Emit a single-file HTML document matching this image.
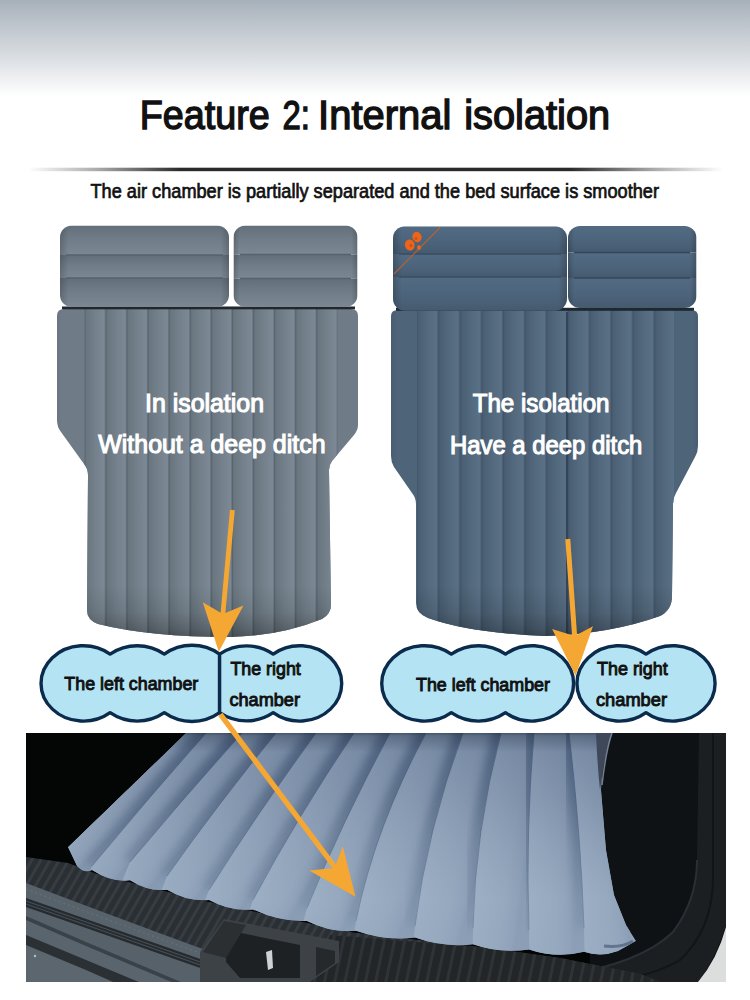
<!DOCTYPE html>
<html><head><meta charset="utf-8">
<style>
html,body{margin:0;padding:0;width:750px;height:1000px;overflow:hidden;background:#fff}
svg{display:block}
text{font-family:"Liberation Sans",sans-serif}
</style></head>
<body>
<svg width="750" height="1000" viewBox="0 0 750 1000">
<defs>
  <linearGradient id="bg" x1="0" y1="0" x2="0" y2="1">
    <stop offset="0" stop-color="#a7b1bb"/>
    <stop offset="0.5" stop-color="#d2d7dc"/>
    <stop offset="1" stop-color="#ffffff"/>
  </linearGradient>
  <linearGradient id="rule" x1="28" y1="0" x2="723" y2="0" gradientUnits="userSpaceOnUse">
    <stop offset="0" stop-color="#2a2a2a" stop-opacity="0"/>
    <stop offset="0.1" stop-color="#2a2a2a" stop-opacity="0.4"/>
    <stop offset="0.22" stop-color="#2a2a2a" stop-opacity="1"/>
    <stop offset="0.78" stop-color="#2a2a2a" stop-opacity="1"/>
    <stop offset="0.9" stop-color="#2a2a2a" stop-opacity="0.4"/>
    <stop offset="1" stop-color="#2a2a2a" stop-opacity="0"/>
  </linearGradient>
  <!-- left mattress tube stripes -->
  <linearGradient id="tubeL" x1="84.8" y1="0" x2="105.88" y2="0" gradientUnits="userSpaceOnUse" spreadMethod="repeat">
    <stop offset="0" stop-color="#58646e"/>
    <stop offset="0.07" stop-color="#69767f"/>
    <stop offset="0.5" stop-color="#74818c"/>
    <stop offset="0.92" stop-color="#7c8994"/>
    <stop offset="1" stop-color="#5a6670"/>
  </linearGradient>
  <linearGradient id="tubeR" x1="417" y1="0" x2="438.6" y2="0" gradientUnits="userSpaceOnUse" spreadMethod="repeat">
    <stop offset="0" stop-color="#41556a"/>
    <stop offset="0.08" stop-color="#4a5f73"/>
    <stop offset="0.5" stop-color="#53697d"/>
    <stop offset="0.9" stop-color="#5a7086"/>
    <stop offset="1" stop-color="#44586c"/>
  </linearGradient>
  <linearGradient id="pilL" x1="0" y1="0" x2="0" y2="1">
    <stop offset="0" stop-color="#5f6d78"/>
    <stop offset="1" stop-color="#7a8894"/>
  </linearGradient>
  <linearGradient id="pilR" x1="0" y1="0" x2="0" y2="1">
    <stop offset="0" stop-color="#48607a"/>
    <stop offset="1" stop-color="#587088"/>
  </linearGradient>
  <clipPath id="bodyLclip"><path d="M57,316 Q57,309 64,309 L351,309 Q358,309 358,316 L358,425 Q358,430 354,435 L332,461 Q329,465 329,470 L331,605 Q331,614 322,619 Q280,636 230,637 Q150,637 98,624 Q87,620 87,610 L88,475 Q88,469 84,464 L61,432 Q57,427 57,420 Z"/></clipPath>
  <clipPath id="bodyRclip"><path d="M391,316 Q391,310 398,310 L691,310 Q698,310 698,316 L698,446 Q698,452 695,457 L676,493 Q673,498 673,504 L672,596 Q672,610 660,616 Q610,634 545,636 Q470,633 428,618 Q416,613 416,603 L416,504 Q416,498 412,493 L394,467 Q391,462 391,456 Z"/></clipPath>
</defs>

<rect x="0" y="0" width="750" height="97" fill="url(#bg)"/>

<g font-size="40.5" fill="#111" stroke="#111" stroke-width="1.4">
  <text x="139.7" y="129" textLength="130" lengthAdjust="spacingAndGlyphs">Feature</text>
  <text x="282.5" y="129" textLength="27.4" lengthAdjust="spacingAndGlyphs">2:</text>
  <text x="318.1" y="129" textLength="133.2" lengthAdjust="spacingAndGlyphs">Internal</text>
  <text x="464.2" y="129" textLength="146" lengthAdjust="spacingAndGlyphs">isolation</text>
</g>
<rect x="28" y="167.7" width="695" height="3.5" fill="url(#rule)"/>
<text x="90.5" y="198.3" font-size="19.6" fill="#111" stroke="#111" stroke-width="0.7" textLength="568.5" lengthAdjust="spacingAndGlyphs">The air chamber is partially separated and the bed surface is smoother</text>

<!-- LEFT MATTRESS -->
<defs>
  <linearGradient id="ptL" x1="0" y1="0" x2="0" y2="1">
    <stop offset="0" stop-color="#626f7a"/>
    <stop offset="0.5" stop-color="#717e89"/>
    <stop offset="1" stop-color="#7b8893"/>
  </linearGradient>
  <linearGradient id="ptR" x1="0" y1="0" x2="0" y2="1">
    <stop offset="0" stop-color="#526a82"/>
    <stop offset="0.5" stop-color="#4d657c"/>
    <stop offset="1" stop-color="#455a6f"/>
  </linearGradient>
  <linearGradient id="sideSh" x1="0" y1="0" x2="1" y2="0">
    <stop offset="0" stop-color="#000" stop-opacity="0.18"/>
    <stop offset="0.05" stop-color="#000" stop-opacity="0"/>
    <stop offset="0.95" stop-color="#000" stop-opacity="0"/>
    <stop offset="1" stop-color="#000" stop-opacity="0.18"/>
  </linearGradient>
  <linearGradient id="botShL" x1="0" y1="585" x2="0" y2="640" gradientUnits="userSpaceOnUse">
    <stop offset="0" stop-color="#000" stop-opacity="0"/>
    <stop offset="0.5" stop-color="#000" stop-opacity="0.1"/>
    <stop offset="0.8" stop-color="#000" stop-opacity="0.25"/>
    <stop offset="1" stop-color="#000" stop-opacity="0.4"/>
  </linearGradient>
  <linearGradient id="bodySide" x1="0" y1="0" x2="1" y2="0">
    <stop offset="0" stop-color="#000" stop-opacity="0.12"/>
    <stop offset="0.04" stop-color="#000" stop-opacity="0"/>
    <stop offset="0.96" stop-color="#000" stop-opacity="0"/>
    <stop offset="1" stop-color="#000" stop-opacity="0.12"/>
  </linearGradient>
  <clipPath id="pL1"><rect x="60" y="225.5" width="169" height="81.5" rx="12"/></clipPath>
  <clipPath id="pL2"><rect x="233.5" y="225.5" width="124" height="81.5" rx="12"/></clipPath>
  <clipPath id="pR1"><rect x="393" y="226.3" width="174" height="84.5" rx="12"/></clipPath>
  <clipPath id="pR2"><rect x="568" y="226" width="128.5" height="82" rx="12"/></clipPath>
</defs>
<g>
  <g clip-path="url(#bodyLclip)">
    <rect x="50" y="300" width="320" height="350" fill="#6f7c88"/>
    <rect x="84.3" y="300" width="253.2" height="350" fill="url(#tubeL)"/>
    <rect x="50" y="300" width="320" height="350" fill="url(#botShL)"/>
    <rect x="50" y="300" width="320" height="350" fill="url(#bodySide)"/>
  </g>
  <rect x="62" y="306.5" width="293" height="2.8" fill="#20272d"/>
  <g clip-path="url(#pL1)">
    <rect x="60" y="225.5" width="169" height="29.5" fill="url(#ptL)"/>
    <rect x="60" y="255" width="169" height="23" fill="url(#ptL)"/>
    <rect x="60" y="278" width="169" height="29" fill="url(#ptL)"/>
    <rect x="60" y="225.5" width="169" height="81.5" fill="url(#sideSh)"/>
    <path d="M66,255 L223,255 M66,278 L223,278" stroke="#56636d" stroke-width="1.5"/>
  </g>
  <g clip-path="url(#pL2)">
    <rect x="233.5" y="225.5" width="124" height="29" fill="url(#ptL)"/>
    <rect x="233.5" y="254.5" width="124" height="24" fill="url(#ptL)"/>
    <rect x="233.5" y="278.5" width="124" height="29" fill="url(#ptL)"/>
    <rect x="233.5" y="225.5" width="124" height="81.5" fill="url(#sideSh)"/>
    <path d="M240,254.5 L351,254.5 M240,278.5 L351,278.5" stroke="#56636d" stroke-width="1.5"/>
  </g>
</g>

<!-- RIGHT MATTRESS -->
<g>
  <g clip-path="url(#bodyRclip)">
    <rect x="385" y="300" width="320" height="350" fill="#4e6479"/>
    <rect x="417" y="300" width="257" height="350" fill="url(#tubeR)"/>
    <path d="M567,312 L567,640" stroke="#33455a" stroke-width="2"/>
    <rect x="385" y="300" width="320" height="350" fill="url(#botShL)"/>
    <rect x="385" y="300" width="320" height="350" fill="url(#bodySide)"/>
  </g>
  <rect x="396" y="307.8" width="298" height="3" fill="#1e2831"/>
  <g clip-path="url(#pR1)">
    <rect x="393" y="226.3" width="174" height="27.7" fill="url(#ptR)"/>
    <rect x="393" y="254" width="174" height="23" fill="url(#ptR)"/>
    <rect x="393" y="277" width="174" height="34" fill="url(#ptR)"/>
    <rect x="393" y="226.3" width="174" height="84.5" fill="url(#sideSh)"/>
    <path d="M399,254 L561,254 M399,277 L561,277" stroke="#3a4d60" stroke-width="1.5"/>
  </g>
  <g clip-path="url(#pR2)">
    <rect x="568" y="226" width="128.5" height="26.5" fill="url(#ptR)"/>
    <rect x="568" y="252.5" width="128.5" height="25.5" fill="url(#ptR)"/>
    <rect x="568" y="278" width="128.5" height="30" fill="url(#ptR)"/>
    <rect x="568" y="226" width="128.5" height="83" fill="url(#sideSh)"/>
    <path d="M574,252.5 L690,252.5 M574,278 L690,278" stroke="#34475a" stroke-width="1.6"/>
  </g>
  <!-- logo -->
  <path d="M394,274 L440,227.5" stroke="#c8602a" stroke-width="1.1" opacity="0.85"/>
  <g fill="#ee6418">
    <ellipse cx="417" cy="237" rx="4.6" ry="5.2" transform="rotate(-20 417 237)"/>
    <ellipse cx="409.8" cy="245" rx="4.8" ry="5.6" transform="rotate(-20 409.8 245)"/>
    <ellipse cx="419" cy="247.5" rx="2" ry="2.5"/>
  </g>
  <g fill="#b8501c" opacity="0.7">
    <ellipse cx="416" cy="238.5" rx="1.5" ry="1.8"/>
    <ellipse cx="411" cy="245.5" rx="1.5" ry="1.8"/>
  </g>
</g>

<!-- mattress texts -->
<g fill="#fff" stroke="#fff" stroke-width="1.1" font-size="25">
  <text x="145" y="411.8" textLength="119" lengthAdjust="spacingAndGlyphs">In isolation</text>
  <text x="98.3" y="453.3" textLength="227.2" lengthAdjust="spacingAndGlyphs">Without a deep ditch</text>
  <text x="472.7" y="412.2" textLength="136.8" lengthAdjust="spacingAndGlyphs">The isolation</text>
  <text x="450" y="454.3" textLength="192.4" lengthAdjust="spacingAndGlyphs">Have a deep ditch</text>
</g>

<!-- CLOUDS -->
<g fill="#b4e4f4" stroke="#0b2b4c" stroke-width="3.4" stroke-linejoin="round">
  <path d="M110.1,654.1 A47.9,47.9 0 0 1 164.3,654.1 A47.9,47.9 0 0 1 219.6,654.1 L219.6,712.7 A47.9,47.9 0 0 1 164.3,712.7 A47.9,47.9 0 0 1 110.1,712.7 A42.4,37.7 0 1 1 110.1,654.1 Z"/>
  <path d="M219.6,654.1 A47.9,47.9 0 0 1 273.2,654.1 A42.05,37.7 0 1 1 273.2,712.7 A47.9,47.9 0 0 1 219.6,712.7 Z"/>
  <path d="M451.3,654.1 A47.9,47.9 0 0 1 505.5,654.1 A41.8,37.7 0 1 1 505.5,712.7 A47.9,47.9 0 0 1 451.3,712.7 A42.7,37.7 0 1 1 451.3,654.1 Z"/>
  <path d="M646,654.1 A42.4,37.7 0 1 1 646,712.7 A42.4,37.7 0 1 1 646,654.1 Z"/>
</g>

<g fill="#111" stroke="#111" stroke-width="0.95" font-size="18.6">
  <text x="64.3" y="690.2" textLength="134" lengthAdjust="spacingAndGlyphs">The left chamber</text>
  <text x="230.4" y="674.6" textLength="70.4" lengthAdjust="spacingAndGlyphs">The right</text>
  <text x="229.4" y="705.8" textLength="70.6" lengthAdjust="spacingAndGlyphs">chamber</text>
  <text x="416" y="691" textLength="134" lengthAdjust="spacingAndGlyphs">The left chamber</text>
  <text x="597" y="674.8" textLength="70.8" lengthAdjust="spacingAndGlyphs">The right</text>
  <text x="596" y="706" textLength="71" lengthAdjust="spacingAndGlyphs">chamber</text>
</g>

<!-- BOTTOM PHOTO -->
<g id="photo">
  <defs>
    <clipPath id="photoClip"><rect x="26" y="733" width="700" height="249"/></clipPath>
    <pattern id="ribs" width="8" height="40" patternUnits="userSpaceOnUse" patternTransform="rotate(30)">
      <rect width="8" height="40" fill="#2a2f33"/>
      <rect x="0" width="3" height="40" fill="#363c41"/>
    </pattern>
    <pattern id="ribs2" width="10" height="40" patternUnits="userSpaceOnUse" patternTransform="rotate(12)">
      <rect width="10" height="40" fill="#222629"/>
      <rect x="0" width="3" height="40" fill="#2e3336"/>
    </pattern>
    <linearGradient id="phM" x1="0" y1="733" x2="0" y2="955" gradientUnits="userSpaceOnUse">
      <stop offset="0" stop-color="#7c8fa8"/>
      <stop offset="0.45" stop-color="#95a7be"/>
      <stop offset="1" stop-color="#a5b5c8"/>
    </linearGradient>
  </defs>
  <g clip-path="url(#photoClip)">
  <rect x="26" y="733" width="700" height="249" fill="#040505"/>
  <rect x="590" y="733" width="136" height="249" fill="#0e1215"/>
  <!-- right trim -->
  <path d="M699,733 L726,733 L726,925 Q715,960 698,982 L560,982 L560,976 Q640,964 673,932 Q697,900 697,860 Z" fill="#1c1f22"/>
  <path d="M697,860 Q697,900 673,932 Q640,964 560,976" fill="none" stroke="#2b2f33" stroke-width="2"/>
  <path d="M713,733 L713,880 Q712,930 680,960 Q650,978 600,982" fill="none" stroke="#121416" stroke-width="2"/>
  <!-- far right white car body -->
  <path d="M726.5,925 Q718,958 698,982 L726,982 Z" fill="#dcdedd"/>
  <!-- sill: ribbed top surface -->
  <path d="M26,857 L68,863 L97,874 L200,900 L349,932 L480,947 L560,958 L600,966 L640,974 L660,982 L26,982 Z" fill="url(#ribs)"/>
  <path d="M330,935 L480,947 L560,958 L600,966 L640,974 L660,982 L310,982 Z" fill="url(#ribs2)"/>
  <!-- bevel -->
  <path d="M26,883 Q110,915 200,948 L420,1030 L26,1030 Z" fill="#58626a"/>
  <path d="M26,889 Q110,921 200,953" fill="none" stroke="#6f7a82" stroke-width="1" stroke-dasharray="2 3" opacity="0.7"/>
  <!-- grooves -->
  <path d="M26,898 L226,968 L420,1036 L26,1036 Z" fill="#262b2f"/>
  <path d="M26,901 L226,971 M26,904 L226,974" stroke="#475057" stroke-width="1.1"/>
  <!-- lower face -->
  <path d="M26,907 L226,977 L420,1045 L26,1045 Z" fill="#56616a"/>
  <path d="M26,916 L86,942 L200,990 L26,990 Z" fill="#3a4249"/>
  <path d="M26,920 L86,946 L200,994 L26,994 Z" fill="#59646d"/>
  <path d="M26,935 L86,960 L146,985 L26,985 Z" fill="#2b3034"/>
  <path d="M26,945 L86,970 L120,985 L26,985 Z" fill="#5b666e"/>
  <circle cx="35" cy="956" r="1.2" fill="#b8c0c4"/>
  <!-- latch housing -->
  <path d="M224,919 L339,941 L339,962 L310,982 L200,982 L200,952 Z" fill="#3d4246"/>
  <path d="M226,930 L300,945 L300,978 L240,978 L226,962 Z" fill="#1e2124"/>
  <path d="M203,952 L224,921 L246,925 L226,958 Z" fill="#2b2f32"/>
  <path d="M316,947 L335,951 L335,963 L316,976 Z" fill="#25292c"/>
  <path d="M266,952 L272,950 L273,968 L268,970 Z" fill="#cfd2d4"/>
  <!-- mattress -->
  <defs>
    <clipPath id="phMclip"><path d="M186,733 L604,733 L601,790 L606,850 L614,895 L626,925 L636,941 L618,951 Q601.0,957.4 584,951.8 Q556.5,958.8 529,949.4 Q501.0,953.9 473,944.2 Q444.0,947.9 415,937.6 Q385.5,941.2 356,930.8 Q331.5,933.2 307,921.0 Q280.0,922.2 253,909.4 Q231.0,911.7 209,899.9 Q188.0,902.0 167,889.7 Q148.5,892.0 130,880.3 Q111.0,882.5 92,870.0 Q84.5,874.0 77,866.0 L68,847 Z"/></clipPath>
    <linearGradient id="tb0" gradientUnits="userSpaceOnUse" x1="127.0" y1="790.0" x2="142.4" y2="805.9"><stop offset="0" stop-color="#a0b2c7"/><stop offset="0.6" stop-color="#97a9bf"/><stop offset="0.9" stop-color="#8d9fb7"/><stop offset="1" stop-color="#8497b0"/></linearGradient>
<clipPath id="tc0"><path d="M186,728 L206,728 L206,733 Q147.0,799.5 92,866 L75.5,906 L50.3,887 L68,847 Q127.0,790.0 186,733 Z"/></clipPath>
<linearGradient id="tb1" gradientUnits="userSpaceOnUse" x1="149.0" y1="799.5" x2="169.3" y2="816.9"><stop offset="0" stop-color="#a0b2c7"/><stop offset="0.6" stop-color="#97a9bf"/><stop offset="0.9" stop-color="#8d9fb7"/><stop offset="1" stop-color="#8497b0"/></linearGradient>
<clipPath id="tc1"><path d="M206,728 L242,728 L242,733 Q184.0,797.5 130,862 L113.8,902 L75.5,906 L92,866 Q147.0,799.5 206,733 Z"/></clipPath>
<linearGradient id="tb2" gradientUnits="userSpaceOnUse" x1="186.0" y1="797.5" x2="209.7" y2="818.1"><stop offset="0" stop-color="#a0b2c7"/><stop offset="0.6" stop-color="#97a9bf"/><stop offset="0.9" stop-color="#8d9fb7"/><stop offset="1" stop-color="#8497b0"/></linearGradient>
<clipPath id="tc2"><path d="M242,728 L276,728 L276,733 Q217.5,804.5 167,876 L151.8,916 L113.8,902 L130,862 Q184.0,797.5 242,733 Z"/></clipPath>
<linearGradient id="tb3" gradientUnits="userSpaceOnUse" x1="221.5" y1="804.5" x2="250.8" y2="826.8"><stop offset="0" stop-color="#a0b2c7"/><stop offset="0.6" stop-color="#97a9bf"/><stop offset="0.9" stop-color="#8d9fb7"/><stop offset="1" stop-color="#8497b0"/></linearGradient>
<clipPath id="tc3"><path d="M276,728 L316,728 L316,733 Q258.5,811.5 209,890 L194.2,930 L151.8,916 L167,876 Q217.5,804.5 276,733 Z"/></clipPath>
<linearGradient id="tb4" gradientUnits="userSpaceOnUse" x1="262.5" y1="811.5" x2="292.8" y2="832.2"><stop offset="0" stop-color="#a0b2c7"/><stop offset="0.6" stop-color="#97a9bf"/><stop offset="0.9" stop-color="#8d9fb7"/><stop offset="1" stop-color="#8497b0"/></linearGradient>
<clipPath id="tc4"><path d="M316,728 L354,728 L354,733 Q297.5,816.5 253,900 L239.7,940 L194.2,930 L209,890 Q258.5,811.5 316,733 Z"/></clipPath>
<linearGradient id="tb5" gradientUnits="userSpaceOnUse" x1="303.5" y1="816.5" x2="338.2" y2="837.5"><stop offset="0" stop-color="#a0b2c7"/><stop offset="0.6" stop-color="#97a9bf"/><stop offset="0.9" stop-color="#8d9fb7"/><stop offset="1" stop-color="#8497b0"/></linearGradient>
<clipPath id="tc5"><path d="M354,728 L390,728 L390,733 Q342.5,820.5 307,908 L296.4,948 L239.7,940 L253,900 Q297.5,816.5 354,733 Z"/></clipPath>
<linearGradient id="tb6" gradientUnits="userSpaceOnUse" x1="348.5" y1="820.5" x2="385.7" y2="838.1"><stop offset="0" stop-color="#a0b2c7"/><stop offset="0.6" stop-color="#97a9bf"/><stop offset="0.9" stop-color="#8d9fb7"/><stop offset="1" stop-color="#8497b0"/></linearGradient>
<clipPath id="tc6"><path d="M390,728 L426,728 L426,733 Q375.0,827.0 356,921 L350.3,961 L296.4,948 L307,908 Q342.5,820.5 390,733 Z"/></clipPath>
<linearGradient id="tb7" gradientUnits="userSpaceOnUse" x1="391.0" y1="827.0" x2="434.0" y2="843.0"><stop offset="0" stop-color="#a0b2c7"/><stop offset="0.6" stop-color="#97a9bf"/><stop offset="0.9" stop-color="#8d9fb7"/><stop offset="1" stop-color="#8497b0"/></linearGradient>
<clipPath id="tc7"><path d="M426,728 L463,728 L463,733 Q427.0,829.5 415,926 L411.4,966 L350.3,961 L356,921 Q375.0,827.0 426,733 Z"/></clipPath>
<linearGradient id="tb8" gradientUnits="userSpaceOnUse" x1="439.0" y1="829.5" x2="484.4" y2="840.8"><stop offset="0" stop-color="#a0b2c7"/><stop offset="0.6" stop-color="#97a9bf"/><stop offset="0.9" stop-color="#8d9fb7"/><stop offset="1" stop-color="#8497b0"/></linearGradient>
<clipPath id="tc8"><path d="M463,728 L501,728 L501,733 Q475.0,830.5 473,928 L472.4,968 L411.4,966 L415,926 Q427.0,829.5 463,733 Z"/></clipPath>
<linearGradient id="tb9" gradientUnits="userSpaceOnUse" x1="487.0" y1="830.5" x2="530.7" y2="836.8"><stop offset="0" stop-color="#a0b2c7"/><stop offset="0.6" stop-color="#97a9bf"/><stop offset="0.9" stop-color="#8d9fb7"/><stop offset="1" stop-color="#8497b0"/></linearGradient>
<clipPath id="tc9"><path d="M501,728 L534,728 L534,733 Q525.5,831.5 529,930 L530.0,970 L472.4,968 L473,928 Q475.0,830.5 501,733 Z"/></clipPath>
<linearGradient id="tb10" gradientUnits="userSpaceOnUse" x1="531.5" y1="831.5" x2="576.4" y2="832.6"><stop offset="0" stop-color="#a0b2c7"/><stop offset="0.6" stop-color="#97a9bf"/><stop offset="0.9" stop-color="#8d9fb7"/><stop offset="1" stop-color="#8497b0"/></linearGradient>
<clipPath id="tc10"><path d="M534,728 L569,728 L569,733 Q580.5,830.5 584,928 L585.0,968 L530.0,970 L529,930 Q525.5,831.5 534,733 Z"/></clipPath>
<linearGradient id="tb11" gradientUnits="userSpaceOnUse" x1="576.5" y1="830.5" x2="620.9" y2="827.1"><stop offset="0" stop-color="#a0b2c7"/><stop offset="0.6" stop-color="#97a9bf"/><stop offset="0.9" stop-color="#8d9fb7"/><stop offset="1" stop-color="#8497b0"/></linearGradient>
<clipPath id="tc11"><path d="M569,728 L612,728 L612,733 Q629.0,829.0 630,925 L630.3,965 L585.0,968 L584,928 Q580.5,830.5 569,733 Z"/></clipPath>
    <filter id="bl4" x="-20%" y="-20%" width="140%" height="140%"><feGaussianBlur stdDeviation="4"/></filter>
    <linearGradient id="shFade" x1="0" y1="733" x2="0" y2="940" gradientUnits="userSpaceOnUse">
      <stop offset="0" stop-color="#fff" stop-opacity="0.6"/>
      <stop offset="0.5" stop-color="#fff" stop-opacity="0.32"/>
      <stop offset="1" stop-color="#fff" stop-opacity="0.15"/>
    </linearGradient>
    <mask id="shMask" maskUnits="userSpaceOnUse" x="26" y="733" width="700" height="250"><rect x="26" y="733" width="700" height="250" fill="url(#shFade)"/></mask>
    <linearGradient id="phTop2" x1="0" y1="733" x2="0" y2="752" gradientUnits="userSpaceOnUse">
      <stop offset="0" stop-color="#1d2a3d" stop-opacity="0.55"/>
      <stop offset="0.15" stop-color="#1d2a3d" stop-opacity="0.3"/>
      <stop offset="1" stop-color="#1d2a3d" stop-opacity="0"/>
    </linearGradient>
    <linearGradient id="phTop" x1="0" y1="733" x2="0" y2="900" gradientUnits="userSpaceOnUse">
      <stop offset="0" stop-color="#1d3155" stop-opacity="0.3"/>
      <stop offset="1" stop-color="#1d3155" stop-opacity="0"/>
    </linearGradient>
    <linearGradient id="phBot" x1="0" y1="800" x2="0" y2="950" gradientUnits="userSpaceOnUse">
      <stop offset="0" stop-color="#94a8be" stop-opacity="0"/>
      <stop offset="1" stop-color="#94a8be" stop-opacity="0.45"/>
    </linearGradient>
  </defs>
  <g clip-path="url(#phMclip)">
    <path d="M186,733 L604,733 L601,790 L606,850 L614,895 L626,925 L636,941 L618,951 Q601.0,957.4 584,951.8 Q556.5,958.8 529,949.4 Q501.0,953.9 473,944.2 Q444.0,947.9 415,937.6 Q385.5,941.2 356,930.8 Q331.5,933.2 307,921.0 Q280.0,922.2 253,909.4 Q231.0,911.7 209,899.9 Q188.0,902.0 167,889.7 Q148.5,892.0 130,880.3 Q111.0,882.5 92,870.0 Q84.5,874.0 77,866.0 L68,847 Z" fill="#8a9eb7"/>
    <path d="M186,728 L206,728 L206,733 Q147.0,799.5 92,866 L75.5,906 L50.3,887 L68,847 Q127.0,790.0 186,733 Z" fill="url(#tb0)"/>
<path d="M206,728 L242,728 L242,733 Q184.0,797.5 130,862 L113.8,902 L75.5,906 L92,866 Q147.0,799.5 206,733 Z" fill="url(#tb1)"/>
<path d="M242,728 L276,728 L276,733 Q217.5,804.5 167,876 L151.8,916 L113.8,902 L130,862 Q184.0,797.5 242,733 Z" fill="url(#tb2)"/>
<path d="M276,728 L316,728 L316,733 Q258.5,811.5 209,890 L194.2,930 L151.8,916 L167,876 Q217.5,804.5 276,733 Z" fill="url(#tb3)"/>
<path d="M316,728 L354,728 L354,733 Q297.5,816.5 253,900 L239.7,940 L194.2,930 L209,890 Q258.5,811.5 316,733 Z" fill="url(#tb4)"/>
<path d="M354,728 L390,728 L390,733 Q342.5,820.5 307,908 L296.4,948 L239.7,940 L253,900 Q297.5,816.5 354,733 Z" fill="url(#tb5)"/>
<path d="M390,728 L426,728 L426,733 Q375.0,827.0 356,921 L350.3,961 L296.4,948 L307,908 Q342.5,820.5 390,733 Z" fill="url(#tb6)"/>
<path d="M426,728 L463,728 L463,733 Q427.0,829.5 415,926 L411.4,966 L350.3,961 L356,921 Q375.0,827.0 426,733 Z" fill="url(#tb7)"/>
<path d="M463,728 L501,728 L501,733 Q475.0,830.5 473,928 L472.4,968 L411.4,966 L415,926 Q427.0,829.5 463,733 Z" fill="url(#tb8)"/>
<path d="M501,728 L534,728 L534,733 Q525.5,831.5 529,930 L530.0,970 L472.4,968 L473,928 Q475.0,830.5 501,733 Z" fill="url(#tb9)"/>
<path d="M534,728 L569,728 L569,733 Q580.5,830.5 584,928 L585.0,968 L530.0,970 L529,930 Q525.5,831.5 534,733 Z" fill="url(#tb10)"/>
<path d="M569,728 L612,728 L612,733 Q629.0,829.0 630,925 L630.3,965 L585.0,968 L584,928 Q580.5,830.5 569,733 Z" fill="url(#tb11)"/>
    <g mask="url(#shMask)">
<g clip-path="url(#tc0)"><path d="M206,727 L206,733 Q147.0,799.5 92,866" fill="none" stroke="#3a506c" stroke-width="18" filter="url(#bl4)"/></g>
<g clip-path="url(#tc1)"><path d="M242,727 L242,733 Q184.0,797.5 130,862" fill="none" stroke="#3a506c" stroke-width="18" filter="url(#bl4)"/></g>
<g clip-path="url(#tc2)"><path d="M276,727 L276,733 Q217.5,804.5 167,876" fill="none" stroke="#3a506c" stroke-width="18" filter="url(#bl4)"/></g>
<g clip-path="url(#tc3)"><path d="M316,727 L316,733 Q258.5,811.5 209,890" fill="none" stroke="#3a506c" stroke-width="18" filter="url(#bl4)"/></g>
<g clip-path="url(#tc4)"><path d="M354,727 L354,733 Q297.5,816.5 253,900" fill="none" stroke="#3a506c" stroke-width="18" filter="url(#bl4)"/></g>
<g clip-path="url(#tc5)"><path d="M390,727 L390,733 Q342.5,820.5 307,908" fill="none" stroke="#3a506c" stroke-width="18" filter="url(#bl4)"/></g>
<g clip-path="url(#tc6)"><path d="M426,727 L426,733 Q375.0,827.0 356,921" fill="none" stroke="#3a506c" stroke-width="18" filter="url(#bl4)"/></g>
<g clip-path="url(#tc7)"><path d="M463,727 L463,733 Q427.0,829.5 415,926" fill="none" stroke="#3a506c" stroke-width="18" filter="url(#bl4)"/></g>
<g clip-path="url(#tc8)"><path d="M501,727 L501,733 Q475.0,830.5 473,928" fill="none" stroke="#3a506c" stroke-width="18" filter="url(#bl4)"/></g>
<g clip-path="url(#tc9)"><path d="M534,727 L534,733 Q525.5,831.5 529,930" fill="none" stroke="#3a506c" stroke-width="18" filter="url(#bl4)"/></g>
<g clip-path="url(#tc10)"><path d="M569,727 L569,733 Q580.5,830.5 584,928" fill="none" stroke="#3a506c" stroke-width="18" filter="url(#bl4)"/></g>
    </g>
    <path d="M206,733 Q147.0,799.5 92,866" fill="none" stroke="#5a6f8c" stroke-width="1" opacity="0.8"/>
<path d="M242,733 Q184.0,797.5 130,862" fill="none" stroke="#5a6f8c" stroke-width="1" opacity="0.8"/>
<path d="M276,733 Q217.5,804.5 167,876" fill="none" stroke="#5a6f8c" stroke-width="1" opacity="0.8"/>
<path d="M316,733 Q258.5,811.5 209,890" fill="none" stroke="#5a6f8c" stroke-width="1" opacity="0.8"/>
<path d="M354,733 Q297.5,816.5 253,900" fill="none" stroke="#5a6f8c" stroke-width="1" opacity="0.8"/>
<path d="M390,733 Q342.5,820.5 307,908" fill="none" stroke="#5a6f8c" stroke-width="1" opacity="0.8"/>
<path d="M426,733 Q375.0,827.0 356,921" fill="none" stroke="#5a6f8c" stroke-width="1" opacity="0.8"/>
<path d="M463,733 Q427.0,829.5 415,926" fill="none" stroke="#5a6f8c" stroke-width="1" opacity="0.8"/>
<path d="M501,733 Q475.0,830.5 473,928" fill="none" stroke="#5a6f8c" stroke-width="1" opacity="0.8"/>
<path d="M534,733 Q525.5,831.5 529,930" fill="none" stroke="#5a6f8c" stroke-width="1" opacity="0.8"/>
<path d="M569,733 Q580.5,830.5 584,928" fill="none" stroke="#5a6f8c" stroke-width="1" opacity="0.8"/>
    <rect x="26" y="733" width="700" height="250" fill="url(#phTop)"/>
    <rect x="26" y="733" width="700" height="250" fill="url(#phBot)"/>
    <rect x="26" y="733" width="700" height="20" fill="url(#phTop2)"/>
  </g>
  <path d="M596,733 L612,733 Q606,750 603,770 L600,790 Q597,760 596,733 Z" fill="#3e4858"/><path d="M612,733 Q606,750 602,785" fill="none" stroke="#8a9bb0" stroke-width="1.5" opacity="0.8"/>
  <path d="M604,946 Q622,948 633,941" fill="none" stroke="#62748b" stroke-width="3"/>
  </g>
</g>

<!-- ARROWS -->
<g fill="#f5a733" stroke="none">
  <line x1="232.4" y1="510" x2="222.8" y2="615" stroke="#f5a733" stroke-width="4.8"/>
  <path d="M202.8,602.3 L222.8,614 L243.5,605.5 L218.8,651.8 Z"/>
  <line x1="567.8" y1="539" x2="574.9" y2="640" stroke="#f5a733" stroke-width="5"/>
  <path d="M552.1,628.9 L574.6,636 L593,626.3 L575.6,675.7 Z"/>
  <line x1="220.4" y1="714.4" x2="340" y2="874" stroke="#f5a733" stroke-width="5.3"/>
  <path d="M309.2,870.4 L334.4,868 L342.8,846.4 L355.5,896.8 Z"/>
</g>
</svg>
</body></html>
